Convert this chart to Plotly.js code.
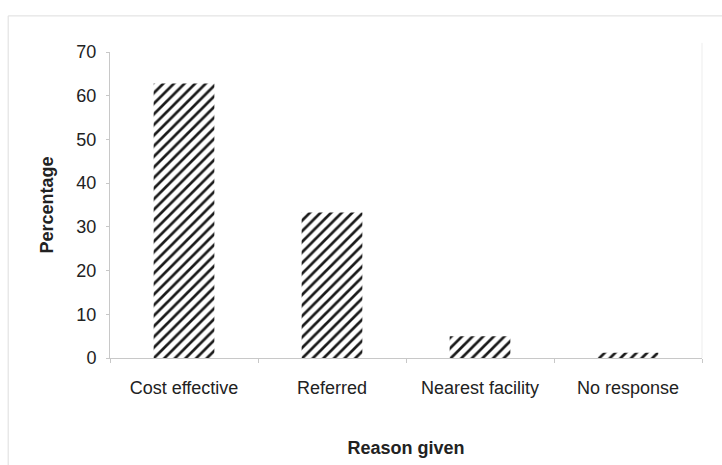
<!DOCTYPE html>
<html>
<head>
<meta charset="utf-8">
<script src="https://cdn.plot.ly/plotly-3.0.1.min.js"></script>
<style>
  html, body { margin: 0; padding: 0; background: #ffffff; }
  #chart { width: 722px; height: 465px; }
</style>
</head>
<body>
<div id="chart"></div>
<script>
// Reasons given and share of respondents (%)
const reasons = ["Cost effective", "Referred", "Nearest facility", "No response"];
const percentages = [62.8, 33.3, 5.0, 1.2];
const yTicks = [0, 10, 20, 30, 40, 50, 60, 70];

const trace = {
  type: "bar",
  x: reasons,
  y: percentages,
  width: 0.41,
  marker: {
    color: "#ffffff",
    line: { width: 0 },
    pattern: {
      shape: "/",
      fgcolor: "#1a1a1a",
      bgcolor: "#ffffff",
      size: 7.5,
      solidity: 0.36
    }
  },
  hoverinfo: "x+y"
};

const layout = {
  width: 722,
  height: 465,
  margin: { l: 110, r: 20, t: 52, b: 107 },
  paper_bgcolor: "#ffffff",
  plot_bgcolor: "#ffffff",
  showlegend: false,
  font: { family: "Liberation Sans, Arial, sans-serif", size: 18, color: "#222222" },
  xaxis: {
    type: "category",
    showline: true,
    linecolor: "#c8c8c8",
    linewidth: 1,
    ticks: "outside",
    tickson: "boundaries",
    ticklen: 4,
    tickcolor: "#c8c8c8",
    ticklabelstandoff: 13,
    showgrid: false,
    zeroline: false,
    tickfont: { size: 18, color: "#222222" },
    title: {
      text: "<b>Reason given</b>",
      font: { size: 18, color: "#222222" },
      standoff: 44
    }
  },
  yaxis: {
    range: [0, 70],
    tickvals: yTicks,
    ticktext: yTicks.map(String),
    showline: true,
    linecolor: "#c8c8c8",
    linewidth: 1,
    ticks: "outside",
    ticklen: 3,
    tickcolor: "#c8c8c8",
    ticklabelstandoff: 6,
    showgrid: false,
    zeroline: false,
    tickfont: { size: 18, color: "#222222" },
    title: {
      text: "<b>Percentage</b>",
      font: { size: 18, color: "#222222" },
      standoff: 18
    }
  },
  shapes: [
    {
      type: "rect", xref: "paper", yref: "paper",
      x0: -0.172, x1: 1.06, y0: -0.4, y1: 1.118,
      line: { color: "#dddddd", width: 1 },
      fillcolor: "rgba(0,0,0,0)",
      layer: "below"
    },
    {
      type: "line", xref: "paper", yref: "paper",
      x0: 1, x1: 1, y0: 0, y1: 1.03,
      line: { color: "#ededed", width: 1 },
      layer: "below"
    }
  ]
};

Plotly.newPlot("chart", [trace], layout, { displayModeBar: false, staticPlot: true });
</script>
</body>
</html>
